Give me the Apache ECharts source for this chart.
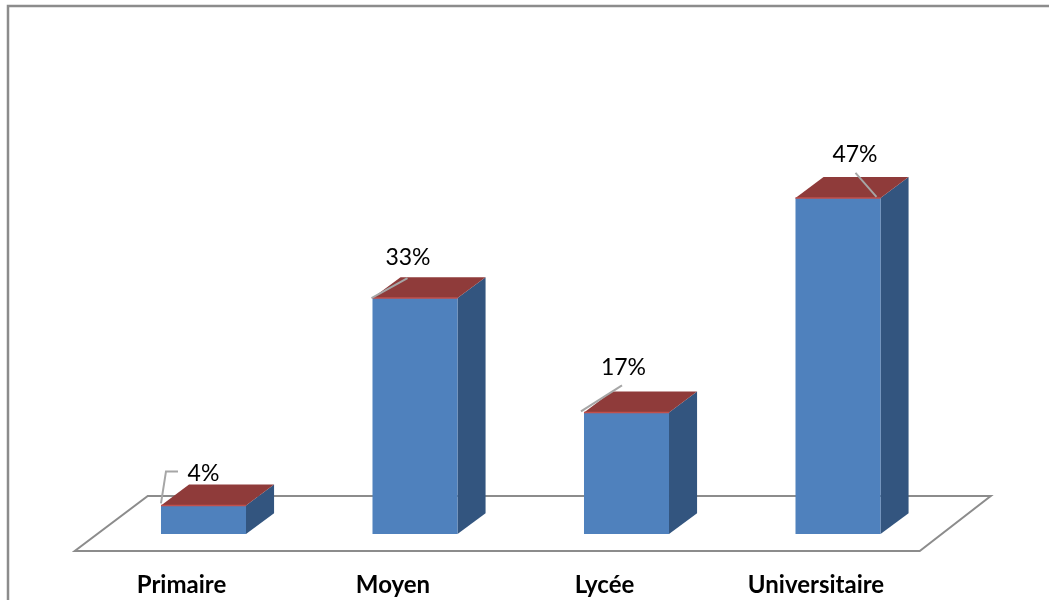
<!DOCTYPE html>
<html>
<head>
<meta charset="utf-8">
<script src="https://cdn.jsdelivr.net/npm/echarts@6/dist/echarts.min.js"></script>
<style>
  html, body { margin: 0; padding: 0; background: #ffffff; }
  #chart { width: 1049px; height: 600px; }
</style>
</head>
<body>
<div id="chart"></div>
<script>
// Niveau d'instruction (%)
const categories = ['Primaire', 'Moyen', 'Lycée', 'Universitaire'];
const values = [4, 33, 17, 47];
const valueLabels = ['4%', '33%', '17%', '47%'];

// label placement, relative to the front-top centre of each bar
const labelOffsets = [[0, -32], [-7, -40], [-3, -45], [17, -43]];
// leader lines, relative to the front-top-left corner of each bar
const leaderLines = [
  [[0, -2], [5, -34], [17, -34]],
  [[-1, 0], [35, -20]],
  [[-3, -1], [38, -27]],
  [[60, -25], [81, -1]]
];

const FRONT = '#4F81BD';
const SIDE = '#33557F';
const TOP = '#8F3B3A';
const TOP_EDGE = '#C0504D';
const FLOOR = '#8C8C8C';
const LEADER = '#A6A6A6';

function depth(w) {
  return [w * 0.33, -w * 0.245];
}

function renderFloor(params, api) {
  const cs = params.coordSys;
  const base = cs.y + cs.height;
  const left = cs.x, right = cs.x + cs.width;
  return {
    type: 'polygon',
    shape: {
      points: [
        [left - 23, base + 17],
        [right - 24, base + 17],
        [right + 47, base - 38],
        [left + 50, base - 38]
      ]
    },
    style: { fill: '#ffffff', stroke: FLOOR, lineWidth: 2 },
    z2: 0
  };
}

function renderBar(params, api) {
  const i = api.value(0);
  const v = api.value(1);
  const top = api.coord([i, v]);
  const base = api.coord([i, 0]);
  const band = api.size([1, 0])[0];
  const w = band * 0.402;
  const [dx, dy] = depth(w);
  const x0 = top[0] - w / 2, x1 = top[0] + w / 2;
  const yt = top[1], yb = base[1];
  const children = [
    {
      type: 'polygon',
      shape: { points: [[x1, yt], [x1 + dx, yt + dy], [x1 + dx, yb + dy], [x1, yb]] },
      style: { fill: SIDE }
    },
    {
      type: 'rect',
      shape: { x: x0, y: yt, width: w, height: yb - yt },
      style: { fill: FRONT }
    },
    {
      type: 'polygon',
      shape: { points: [[x0, yt], [x0 + dx, yt + dy], [x1 + dx, yt + dy], [x1, yt]] },
      style: { fill: TOP }
    },
    {
      type: 'line',
      shape: { x1: x0, y1: yt, x2: x1, y2: yt },
      style: { stroke: TOP_EDGE, lineWidth: 1.5 }
    },
    {
      type: 'polyline',
      shape: { points: leaderLines[i].map(p => [x0 + p[0], yt + p[1]]) },
      style: { stroke: LEADER, lineWidth: 2, fill: null }
    },
    {
      type: 'text',
      style: {
        text: valueLabels[i],
        x: top[0] + labelOffsets[i][0],
        y: yt + labelOffsets[i][1],
        align: 'center',
        verticalAlign: 'middle',
        font: '23px Lato, "Open Sans", sans-serif',
        fill: '#000000'
      }
    }
  ];
  return { type: 'group', children };
}

const chart = echarts.init(document.getElementById('chart'), null, { renderer: 'canvas' });

chart.setOption({
  animation: false,
  backgroundColor: '#ffffff',
  grid: { left: 97.75, right: 105.25, top: 176.5, bottom: 66 },
  xAxis: {
    type: 'category',
    data: categories,
    axisLine: { show: false },
    axisTick: { show: false },
    splitLine: { show: false },
    axisLabel: {
      margin: 39,
      color: '#000000',
      fontFamily: 'Lato, "Open Sans", sans-serif',
      fontWeight: 'bold',
      fontSize: 24,
      padding: [0, 44, 0, 0]
    }
  },
  yAxis: {
    type: 'value',
    min: 0,
    max: 50,
    show: false
  },
  graphic: [
    {
      type: 'polyline',
      shape: { points: [[8, 700], [8, 6], [1100, 6]] },
      style: { stroke: '#8C8C8C', lineWidth: 2.5, fill: null },
      z: 10
    }
  ],
  series: [
    {
      type: 'custom',
      renderItem: renderFloor,
      data: [[0]],
      z: 1,
      silent: true
    },
    {
      type: 'custom',
      renderItem: renderBar,
      data: values.map((v, i) => [i, v]),
      encode: { x: 0, y: 1 },
      z: 2,
      silent: true
    }
  ]
});
</script>
</body>
</html>
